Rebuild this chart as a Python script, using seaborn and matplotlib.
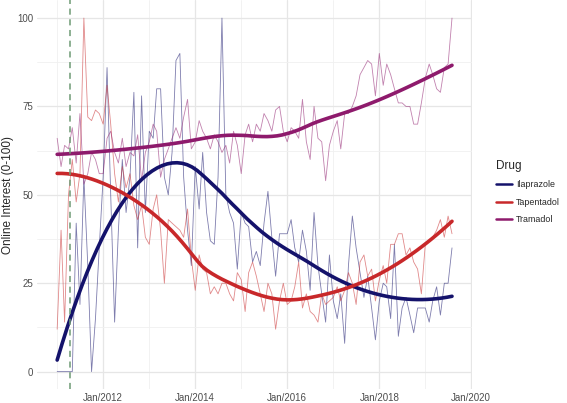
"""
Online interest in three drugs (monthly, 0-100) with loess trends
"""
import numpy as np
import pandas as pd
import matplotlib
matplotlib.use("Agg")
import matplotlib.pyplot as plt
import matplotlib.dates as mdates
from matplotlib.lines import Line2D
import seaborn as sns

# monthly values, Jan 2011 - Aug 2019
months = pd.date_range("2011-01-01", periods=104, freq="MS")

ilaprazole = [0, 0, 0, 0, 0, 42, 19, 55, 30, 0, 15, 35, 55, 86, 50, 14, 40, 60, 45, 55,
              79, 35, 78, 45, 68, 66, 80, 80, 55, 50, 62, 88, 90, 55, 40, 30, 58, 46, 62, 45,
              37, 36, 55, 100, 50, 45, 42, 29, 45, 42, 41, 31, 34, 30, 42, 51, 38, 27, 39, 39,
              39, 43, 35, 31, 40, 34, 23, 45, 30, 22, 14, 33, 20, 15, 22, 8, 30, 44, 35, 28,
              21, 27, 18, 9, 20, 25, 24, 15, 36, 10, 18, 21, 16, 11, 18, 18, 18, 14, 20, 24,
              16, 25, 25, 35]
tapentadol = [12, 40, 14, 50, 60, 48, 56, 100, 72, 71, 74, 73, 70, 81, 70, 56, 48, 58, 52, 56,
              47, 43, 47, 38, 36, 46, 50, 40, 25, 43, 42, 41, 40, 38, 46, 32, 23, 33, 29, 28,
              22, 24, 22, 25, 25, 22, 20, 28, 26, 17, 28, 31, 27, 22, 17, 25, 22, 12, 20, 25,
              19, 20, 24, 31, 18, 22, 17, 16, 14, 22, 19, 20, 21, 24, 20, 23, 28, 25, 19, 31,
              33, 27, 29, 20, 26, 30, 25, 36, 36, 39, 39, 33, 35, 31, 29, 22, 36, 37, 38, 40,
              43, 38, 44, 39]
tramadol = [66, 58, 64, 63, 69, 59, 73, 53, 56, 62, 60, 56, 56, 66, 68, 62, 59, 66, 58, 62,
            61, 67, 54, 62, 65, 70, 68, 55, 60, 63, 66, 69, 66, 72, 77, 63, 65, 71, 68, 66,
            63, 67, 65, 62, 64, 59, 68, 64, 56, 67, 70, 65, 70, 68, 73, 71, 68, 74, 75, 68,
            65, 69, 68, 66, 77, 65, 60, 75, 66, 65, 54, 64, 68, 71, 63, 73, 73, 75, 78, 84,
            86, 88, 87, 78, 90, 81, 87, 84, 80, 76, 76, 75, 75, 70, 70, 76, 83, 87, 84, 80,
            79, 86, 87, 100]

drugs = ["Ilaprazole", "Tapentadol", "Tramadol"]
colors = ["#14126B", "#C8282A", "#8E1A6C"]
marker_date = pd.Timestamp("2011-04-15")

df = pd.DataFrame({
    "date": np.tile(months, 3),
    "interest": ilaprazole + tapentadol + tramadol,
    "Drug": np.repeat(drugs, len(months)),
})


# loess (span 0.75, quadratic, tricube) like geom_smooth default
def loess(x, y, span=0.75, n_out=80):
    x = np.asarray(x, float)
    y = np.asarray(y, float)
    q = int(np.floor(len(x) * span))
    grid = np.linspace(x.min(), x.max(), n_out)
    out = []
    for x0 in grid:
        d = np.abs(x - x0)
        h = np.sort(d)[q - 1]
        w = np.clip(1 - (d / h) ** 3, 0, None) ** 3
        X = np.vstack([np.ones_like(x), x - x0, (x - x0) ** 2]).T
        W = np.sqrt(w)
        beta = np.linalg.lstsq(X * W[:, None], y * W, rcond=None)[0]
        out.append(beta[0])
    return grid, np.array(out)


smooth_parts = []
for drug in drugs:
    sub = df[df["Drug"] == drug]
    xnum = mdates.date2num(sub["date"])
    gx, gy = loess(xnum, sub["interest"])
    smooth_parts.append(pd.DataFrame({
        "date": mdates.num2date(gx),
        "interest": gy,
        "Drug": drug,
    }))
smooth = pd.concat(smooth_parts, ignore_index=True)
smooth["date"] = pd.to_datetime(smooth["date"]).dt.tz_localize(None)

sns.set_theme(style="whitegrid")
plt.rcParams["font.family"] = ["Liberation Sans", "DejaVu Sans"]

fig = plt.figure(figsize=(5.67, 4.03), dpi=100)
ax = fig.add_axes([0.066, 0.034, 0.766, 0.965])

palette = dict(zip(drugs, colors))
sns.lineplot(data=df, x="date", y="interest", hue="Drug", palette=palette,
             linewidth=0.6, alpha=0.55, legend=False, ax=ax)
sns.lineplot(data=smooth, x="date", y="interest", hue="Drug", palette=palette,
             linewidth=2.6, legend=False, ax=ax)
ax.axvline(marker_date, color="#6E9A74", linestyle=(0, (4, 3)), linewidth=1.1)

# axes like ggplot theme_minimal
xmin, xmax = months[0], months[-1]
pad = (xmax - xmin) * 0.05
ax.set_xlim(xmin - pad, xmax + pad)
ax.set_ylim(-5, 105)
ax.set_yticks([0, 25, 50, 75, 100])
ax.set_yticks([12.5, 37.5, 62.5, 87.5], minor=True)
ax.xaxis.set_major_locator(mdates.YearLocator(2))
ax.xaxis.set_major_formatter(mdates.DateFormatter("%b/%Y"))
ax.set_xticks([mdates.date2num(pd.Timestamp(f"{y}-01-01")) for y in range(2011, 2021, 2)],
              minor=True)
ax.grid(which="major", color="#E6E6E6", linewidth=0.9)
ax.grid(which="minor", color="#F0F0F0", linewidth=0.6)
for s in ax.spines.values():
    s.set_visible(False)
ax.tick_params(axis="both", which="both", length=0, labelsize=7, labelcolor="#4D4D4D", pad=3)
ax.set_xlabel("")
ax.set_ylabel("Online Interest (0-100)", fontsize=8.5, labelpad=2)

handles = [Line2D([0], [0], color=c, linewidth=1.8) for c in colors]
leg = fig.legend(handles, drugs, title="Drug", loc="upper left",
                 bbox_to_anchor=(0.868, 0.612), frameon=False, fontsize=6.4,
                 title_fontsize=8.5, handlelength=1.8, handletextpad=0.5,
                 labelspacing=0.95, borderaxespad=0)
leg._legend_box.align = "left"

fig.savefig("out.png", dpi=100)
